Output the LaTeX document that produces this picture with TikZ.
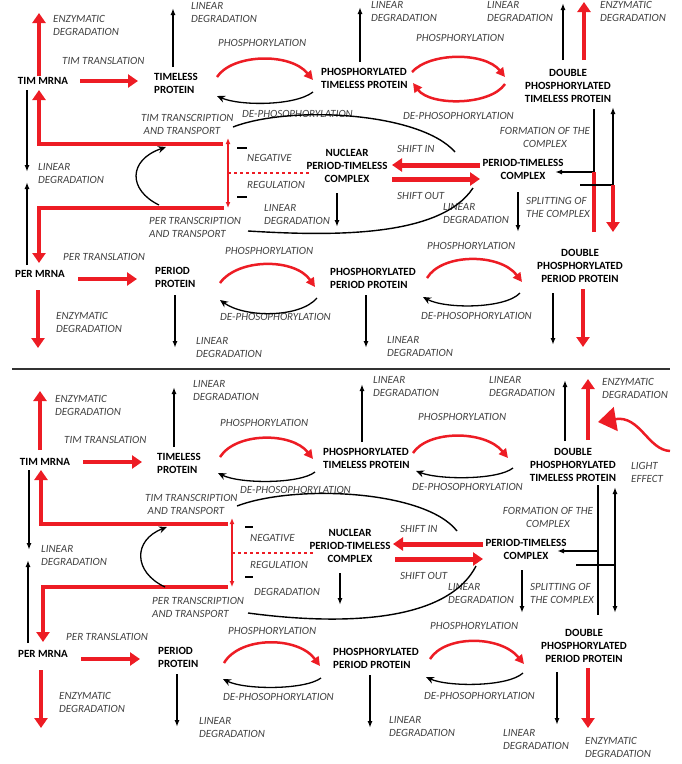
\documentclass[tikz,border=0pt]{standalone}
\usepackage{fontspec}
\setmainfont{Carlito}
\usepackage{tikz}
\usetikzlibrary{arrows,arrows.meta}
\usetikzlibrary{positioning}
\definecolor{paintred}{RGB}{237,28,36}
\definecolor{notegray}{RGB}{64,64,64}
\tikzstyle{clock_style}=[
	x=1pt, y=-1pt,
	protein/.style={align=center,inner sep=0pt,font=\bfseries\fontsize{11}{13}\selectfont},
	note/.style={align=left,anchor=west,inner sep=0pt,text=notegray,font=\itshape\fontsize{11}{13}\selectfont},
	red_edge/.style={draw=paintred,line width=4.5pt,-{Triangle[length=10pt,width=13pt]}},
	red_line/.style={draw=paintred,line width=4.5pt},
	shift_edge/.style={draw=paintred,line width=5pt,-{Triangle[length=10pt,width=13pt]}},
	red_arc/.style={draw=paintred,line width=2.5pt,-{Triangle[length=9pt,width=9pt]}},
	light_edge/.style={draw=paintred,line width=2.5pt,-{Triangle[length=18pt,width=24pt]}},
	thin_edge/.style={draw=black,line width=1.4pt,-{Latex[length=7pt,width=5pt]}},
	thin_both/.style={draw=black,line width=1.4pt,{Latex[length=7pt,width=5pt]}-{Latex[length=7pt,width=5pt]}},
	thin_line/.style={draw=black,line width=1.4pt},
	arc_edge/.style={draw=black,line width=1.3pt,-{Stealth[length=8pt,width=7pt]}},
	reg_edge/.style={draw=paintred,line width=1.4pt,{Latex[length=6pt,width=5pt]}-{Latex[length=6pt,width=5pt]}},
	reg_dash/.style={draw=paintred,line width=1.2pt,dashed},
	minus_sign/.style={draw=black,line width=1.5pt},
	rule_line/.style={draw=black!80,line width=2pt}
]

\begin{document}
\begin{tikzpicture}[clock_style]
		\useasboundingbox (0,0) rectangle (681,764);
		
		%% upper panel
		\node[protein]    (timmrna) at (43,81)   {TIM MRNA};
		\node[protein,anchor=west,align=left]    (timprot) at (154,83.5)   {TIMELESS\\PROTEIN};
		\node[protein,anchor=west,align=left]    (phostim) at (321,78.5)   {PHOSPHORYLATED\\TIMELESS PROTEIN};
		\node[protein]    (dphostim) at (568,86)   {DOUBLE\\PHOSPHORYLATED\\TIMELESS PROTEIN};
		\node[protein]    (nuclear) at (347,166)   {NUCLEAR\\PERIOD-TIMELESS\\COMPLEX};
		\node[protein]    (complex) at (523,169.5)   {PERIOD-TIMELESS\\COMPLEX};
		\node[protein]    (permrna) at (40,274)   {PER MRNA};
		\node[protein,anchor=west,align=left]    (perprot) at (155,277.5)   {PERIOD\\PROTEIN};
		\node[protein,anchor=west,align=left]    (phosper) at (330,278)   {PHOSPHORYLATED\\PERIOD PROTEIN};
		\node[protein]    (dphosper) at (580,266)   {DOUBLE\\PHOSPHORYLATED\\PERIOD PROTEIN};
		
		\node[note]    (n_tmenz) at (53,25.5)   {ENZYMATIC\\DEGRADATION};
		\node[note]    (n_tmtrl) at (62,61)   {TIM TRANSLATION};
		\node[note]    (n_tplin) at (191,12.5)   {LINEAR\\DEGRADATION};
		\node[note]    (n_ph1) at (218,43)   {PHOSPHORYLATION};
		\node[note]    (n_pt1lin) at (371,11.5)   {LINEAR\\DEGRADATION};
		\node[note]    (n_ph2) at (416,38)   {PHOSPHORYLATION};
		\node[note]    (n_dtlin) at (487,11.5)   {LINEAR\\DEGRADATION};
		\node[note]    (n_dtenz) at (600,11.5)   {ENZYMATIC\\DEGRADATION};
		\node[note]    (n_de1) at (242,114)   {DE-PHOSOPHORYLATION};
		\node[note]    (n_de2) at (403,116)   {DE-PHOSOPHORYLATION};
		\node[note]    (n_timtr) at (141,124)   {TIM TRANSCRIPTION\\\ AND TRANSPORT};
		\node[note,anchor=center,align=center]    (n_form) at (545,137.5)   {FORMATION OF THE\\COMPLEX};
		\node[note]    (n_neg) at (247,158)   {NEGATIVE};
		\node[note]    (n_reg) at (247,185)   {REGULATION};
		\node[note]    (n_in) at (397,149)   {SHIFT IN};
		\node[note]    (n_out) at (397,196)   {SHIFT OUT};
		\node[note]    (n_mlin) at (38,174)   {LINEAR\\DEGRADATION};
		\node[note]    (n_nulin) at (264,215)   {LINEAR\\DEGRADATION};
		\node[note]    (n_colin) at (443,213.5)   {LINEAR\\DEGRADATION};
		\node[note]    (n_split) at (526,207)   {SPLITTING OF\\THE COMPLEX};
		\node[note]    (n_pertr) at (149,227.5)   {PER TRANSCRIPTION\\AND TRANSPORT};
		\node[note]    (n_pmtrl) at (63,257)   {PER TRANSLATION};
		\node[note]    (n_ph3) at (225,251)   {PHOSPHORYLATION};
		\node[note]    (n_ph4) at (427,246)   {PHOSPHORYLATION};
		\node[note]    (n_de3) at (220,317)   {DE-PHOSOPHORYLATION};
		\node[note]    (n_de4) at (421,316)   {DE-PHOSOPHORYLATION};
		\node[note]    (n_pmenz) at (56,322.5)   {ENZYMATIC\\DEGRADATION};
		\node[note]    (n_pplin) at (196,347.5)   {LINEAR\\DEGRADATION};
		\node[note]    (n_pp1lin) at (387,346.5)   {LINEAR\\DEGRADATION};
		
		\coordinate (a1) at (39,76);  \coordinate (a2) at (39,13);
		\coordinate (a3) at (80,81);  \coordinate (a4) at (138,81);
		\coordinate (a5) at (223,144);  \coordinate (a6) at (39,144);  \coordinate (a7) at (39,90);
		\coordinate (a8) at (224,208);  \coordinate (a9) at (39,208);  \coordinate (a10) at (39,263);
		\coordinate (a11) at (27,90);  \coordinate (a12) at (27,172);
		\coordinate (a13) at (27,265);  \coordinate (a14) at (27,182);
		\coordinate (a15) at (228,138);  \coordinate (a16) at (228,208);
		\coordinate (a17) at (228,173);  \coordinate (a18) at (310,173);
		\coordinate (a19) at (237,148);  \coordinate (a20) at (247,148);
		\coordinate (a21) at (237,197);  \coordinate (a22) at (247,197);
		\coordinate (a23) at (159,205);  \coordinate (a24) at (166,147);
		\coordinate (a25) at (233,127);  \coordinate (a26) at (455,152);
		\coordinate (a27) at (248,231);  \coordinate (a28) at (473,188);
		\coordinate (a29) at (337,193);  \coordinate (a30) at (337,227);
		\coordinate (a31) at (480,165);  \coordinate (a32) at (392,165);
		\coordinate (a33) at (392,179);  \coordinate (a34) at (480,179);
		\coordinate (a35) at (518,192);  \coordinate (a36) at (518,232);
		\coordinate (a37) at (594,109);  \coordinate (a38) at (594,172);  \coordinate (a39) at (555,172);
		\coordinate (a40) at (594,232);
		\coordinate (a41) at (580,185);  \coordinate (a42) at (613,185);  \coordinate (a43) at (613,107);
		\coordinate (a44) at (613,232);
		\coordinate (a45) at (173,67);  \coordinate (a46) at (173,8);
		\coordinate (a47) at (360,62);  \coordinate (a48) at (360,7);
		\coordinate (a49) at (563,60);  \coordinate (a50) at (563,3);
		\coordinate (a51) at (584,60);  \coordinate (a52) at (584,2);
		\coordinate (a53) at (78,279);  \coordinate (a54) at (137,279);
		\coordinate (a55) at (38,290);  \coordinate (a56) at (38,348);
		\coordinate (a57) at (175,295);  \coordinate (a58) at (175,348);
		\coordinate (a59) at (366,295);  \coordinate (a60) at (366,348);
		\coordinate (a61) at (553,293);  \coordinate (a62) at (553,345);
		\coordinate (a63) at (583,289);  \coordinate (a64) at (583,347);
		\coordinate (c1) at (217,77);  \coordinate (c2) at (313,80);
		\coordinate (c3) at (313,92);  \coordinate (c4) at (217,96);
		\coordinate (c5) at (412,72);  \coordinate (c6) at (505,77);
		\coordinate (c7) at (505,84);  \coordinate (c8) at (413,83);
		\coordinate (c9) at (220,283);  \coordinate (c10) at (315,287);
		\coordinate (c11) at (317,298);  \coordinate (c12) at (220,300);
		\coordinate (c13) at (427,278);  \coordinate (c14) at (522,282);
		\coordinate (c15) at (520,293);  \coordinate (c16) at (423,297);
		
		\draw[red_edge] (a1) -- (a2);
		\draw[red_edge] (a3) -- (a4);
		\draw[red_edge] (a5) -- (a6) -- (a7);
		\draw[red_edge] (a8) -- (a9) -- (a10);
		\draw[thin_edge] (a11) -- (a12);
		\draw[thin_edge] (a13) -- (a14);
		\draw[reg_edge] (a15) -- (a16);
		\draw[reg_dash] (a17) -- (a18);
		\draw[minus_sign] (a19) -- (a20);
		\draw[minus_sign] (a21) -- (a22);
		\draw[arc_edge] (a23) .. controls (128,190) and (128,160) .. (a24);
		\draw[thin_line] (a25) .. controls (290,105) and (420,112) .. (a26);
		\draw[thin_line] (a27) .. controls (330,236) and (440,238) .. (a28);
		\draw[thin_edge] (a29) -- (a30);
		\draw[shift_edge] (a31) -- (a32);
		\draw[shift_edge] (a33) -- (a34);
		\draw[thin_edge] (a35) -- (a36);
		\draw[thin_edge] (a37) -- (a38) -- (a39);
		\draw[red_line] (a40) -- (a38);
		\draw[thin_line] (a41) -- (a42);
		\draw[thin_edge] (a42) -- (a43);
		\draw[red_edge] (a42) -- (a44);
		\draw[thin_edge] (a45) -- (a46);
		\draw[thin_edge] (a47) -- (a48);
		\draw[thin_edge] (a49) -- (a50);
		\draw[red_edge] (a51) -- (a52);
		\draw[red_edge] (a53) -- (a54);
		\draw[red_edge] (a55) -- (a56);
		\draw[thin_edge] (a57) -- (a58);
		\draw[thin_edge] (a59) -- (a60);
		\draw[thin_edge] (a61) -- (a62);
		\draw[red_edge] (a63) -- (a64);
		\draw[red_arc] (c1) .. controls (232,54) and (290,52) .. (c2);
		\draw[arc_edge] (c3) .. controls (295,106) and (240,106) .. (c4);
		\draw[red_arc] (c5) .. controls (430,52) and (485,52) .. (c6);
		\draw[red_arc] (c7) .. controls (490,106) and (430,106) .. (c8);
		\draw[red_arc] (c9) .. controls (238,258) and (295,258) .. (c10);
		\draw[arc_edge] (c11) .. controls (300,318) and (245,318) .. (c12);
		\draw[red_arc] (c13) .. controls (442,253) and (500,253) .. (c14);
		\draw[arc_edge] (c15) .. controls (505,309) and (445,309) .. (c16);
		
		\coordinate (s1) at (12,369);  \coordinate (s2) at (670,369);
		\draw[rule_line] (s1) -- (s2);
		
		%% lower panel
		\node[protein]    (timmrnab) at (45,462)   {TIM MRNA};
		\node[protein,anchor=west,align=left]    (timprotb) at (157,463)   {TIMELESS\\PROTEIN};
		\node[protein,anchor=west,align=left]    (phostimb) at (323,458)   {PHOSPHORYLATED\\TIMELESS PROTEIN};
		\node[protein]    (dphostimb) at (573,465)   {DOUBLE\\PHOSPHORYLATED\\TIMELESS PROTEIN};
		\node[protein]    (nuclearb) at (350,546)   {NUCLEAR\\PERIOD-TIMELESS\\COMPLEX};
		\node[protein]    (complexb) at (526,549.5)   {PERIOD-TIMELESS\\COMPLEX};
		\node[protein]    (permrnab) at (43,654)   {PER MRNA};
		\node[protein,anchor=west,align=left]    (perprotb) at (158,657.5)   {PERIOD\\PROTEIN};
		\node[protein,anchor=west,align=left]    (phosperb) at (333,658)   {PHOSPHORYLATED\\PERIOD PROTEIN};
		\node[protein]    (dphosperb) at (584,646)   {DOUBLE\\PHOSPHORYLATED\\PERIOD PROTEIN};
		
		\node[note]    (m_tmenz) at (55,405)   {ENZYMATIC\\DEGRADATION};
		\node[note]    (m_tplin) at (193,390.5)   {LINEAR\\DEGRADATION};
		\node[note]    (m_tmtrl) at (64,440)   {TIM TRANSLATION};
		\node[note]    (m_ph1) at (220,423)   {PHOSPHORYLATION};
		\node[note]    (m_pt1lin) at (373,387)   {LINEAR\\DEGRADATION};
		\node[note]    (m_ph2) at (418,417)   {PHOSPHORYLATION};
		\node[note]    (m_dtlin) at (489,386.5)   {LINEAR\\DEGRADATION};
		\node[note]    (m_dtenz) at (602,388.5)   {ENZYMATIC\\DEGRADATION};
		\node[note]    (m_light) at (631,472)   {LIGHT\\EFFECT};
		\node[note]    (m_de1) at (240,490)   {DE-PHOSOPHORYLATION};
		\node[note]    (m_de2) at (412,487)   {DE-PHOSOPHORYLATION};
		\node[note]    (m_timtr) at (145,504)   {TIM TRANSCRIPTION\\\ AND TRANSPORT};
		\node[note,anchor=center,align=center]    (m_form) at (548,517.5)   {FORMATION OF THE\\COMPLEX};
		\node[note]    (m_in) at (400,529)   {SHIFT IN};
		\node[note]    (m_neg) at (250,538)   {NEGATIVE};
		\node[note]    (m_reg) at (250,565)   {REGULATION};
		\node[note]    (m_out) at (400,576)   {SHIFT OUT};
		\node[note]    (m_mlin) at (41,555.5)   {LINEAR\\DEGRADATION};
		\node[note]    (m_nulin) at (254,592)   {DEGRADATION};
		\node[note]    (m_colin) at (448,594)   {LINEAR\\DEGRADATION};
		\node[note]    (m_split) at (530,593.5)   {SPLITTING OF\\THE COMPLEX};
		\node[note]    (m_pertr) at (152,607.5)   {PER TRANSCRIPTION\\AND TRANSPORT};
		\node[note]    (m_ph4) at (430,626)   {PHOSPHORYLATION};
		\node[note]    (m_ph3) at (228,631)   {PHOSPHORYLATION};
		\node[note]    (m_pmtrl) at (66,637)   {PER TRANSLATION};
		\node[note]    (m_de3) at (223,697)   {DE-PHOSOPHORYLATION};
		\node[note]    (m_de4) at (424,696)   {DE-PHOSOPHORYLATION};
		\node[note]    (m_pmenz) at (59,702.5)   {ENZYMATIC\\DEGRADATION};
		\node[note]    (m_pplin) at (199,727)   {LINEAR\\DEGRADATION};
		\node[note]    (m_pp1lin) at (389,726.5)   {LINEAR\\DEGRADATION};
		\node[note]    (m_dplin) at (503,739.5)   {LINEAR\\DEGRADATION};
		\node[note]    (m_dpenz) at (585,747.5)   {ENZYMATIC\\DEGRADATION};
		
		\coordinate (b1) at (40,450);  \coordinate (b2) at (40,391);
		\coordinate (b3) at (83,462);  \coordinate (b4) at (142,462);
		\coordinate (b5) at (228,524);  \coordinate (b6) at (41,524);  \coordinate (b7) at (41,470);
		\coordinate (b8) at (228,587);  \coordinate (b9) at (43,587);  \coordinate (b10) at (43,642);
		\coordinate (b11) at (29,470);  \coordinate (b12) at (29,550);
		\coordinate (b13) at (28,643);  \coordinate (b14) at (28,560);
		\coordinate (b15) at (232,518);  \coordinate (b16) at (232,587);
		\coordinate (b17) at (232,553);  \coordinate (b18) at (315,553);
		\coordinate (b19) at (245,527);  \coordinate (b20) at (253,527);
		\coordinate (b21) at (245,577);  \coordinate (b22) at (253,577);
		\coordinate (b23) at (165,587);  \coordinate (b24) at (167,527);
		\coordinate (b25) at (237,506);  \coordinate (b26) at (457,531);
		\coordinate (b27) at (248,613);  \coordinate (b28) at (476,566);
		\coordinate (b29) at (340,573);  \coordinate (b30) at (340,605);
		\coordinate (b31) at (483,544);  \coordinate (b32) at (393,544);
		\coordinate (b33) at (395,559);  \coordinate (b34) at (483,559);
		\coordinate (b35) at (522,570);  \coordinate (b36) at (522,613);
		\coordinate (b37) at (598,485);  \coordinate (b38) at (598,615);
		\coordinate (b39) at (598,551);  \coordinate (b40) at (557,551);
		\coordinate (b41) at (576,565);  \coordinate (b42) at (615,565);
		\coordinate (b43) at (615,487);  \coordinate (b44) at (615,613);
		\coordinate (b45) at (174,447);  \coordinate (b46) at (174,387);
		\coordinate (b47) at (362,442);  \coordinate (b48) at (362,384);
		\coordinate (b49) at (565,441);  \coordinate (b50) at (565,380);
		\coordinate (b51) at (588,440);  \coordinate (b52) at (588,379);
		\coordinate (b53) at (81,659);  \coordinate (b54) at (140,659);
		\coordinate (b55) at (41,670);  \coordinate (b56) at (41,728);
		\coordinate (b57) at (177,674);  \coordinate (b58) at (177,727);
		\coordinate (b59) at (370,675);  \coordinate (b60) at (370,728);
		\coordinate (b61) at (557,672);  \coordinate (b62) at (557,725);
		\coordinate (b63) at (588,668);  \coordinate (b64) at (588,728);
		\coordinate (b65) at (670,451);  \coordinate (b66) at (598,422);
		\coordinate (d1) at (220,457);  \coordinate (d2) at (313,459);
		\coordinate (d3) at (315,472);  \coordinate (d4) at (218,473);
		\coordinate (d5) at (413,453);  \coordinate (d6) at (508,458);
		\coordinate (d7) at (513,468);  \coordinate (d8) at (416,471);
		\coordinate (d9) at (224,663);  \coordinate (d10) at (320,666);
		\coordinate (d11) at (321,678);  \coordinate (d12) at (223,679);
		\coordinate (d13) at (430,659);  \coordinate (d14) at (524,664);
		\coordinate (d15) at (523,673);  \coordinate (d16) at (426,677);
		
		\draw[red_edge] (b1) -- (b2);
		\draw[red_edge] (b3) -- (b4);
		\draw[red_edge] (b5) -- (b6) -- (b7);
		\draw[red_edge] (b8) -- (b9) -- (b10);
		\draw[thin_edge] (b11) -- (b12);
		\draw[thin_edge] (b13) -- (b14);
		\draw[reg_edge] (b15) -- (b16);
		\draw[reg_dash] (b17) -- (b18);
		\draw[minus_sign] (b19) -- (b20);
		\draw[minus_sign] (b21) -- (b22);
		\draw[arc_edge] (b23) .. controls (133,572) and (133,540) .. (b24);
		\draw[thin_line] (b25) .. controls (295,484) and (425,490) .. (b26);
		\draw[thin_line] (b27) .. controls (330,624) and (445,626) .. (b28);
		\draw[thin_edge] (b29) -- (b30);
		\draw[shift_edge] (b31) -- (b32);
		\draw[shift_edge] (b33) -- (b34);
		\draw[thin_edge] (b35) -- (b36);
		\draw[thin_line] (b37) -- (b38);
		\draw[thin_edge] (b39) -- (b40);
		\draw[thin_line] (b41) -- (b42);
		\draw[thin_both] (b43) -- (b44);
		\draw[thin_edge] (b45) -- (b46);
		\draw[thin_edge] (b47) -- (b48);
		\draw[thin_edge] (b49) -- (b50);
		\draw[red_edge] (b51) -- (b52);
		\draw[red_edge] (b53) -- (b54);
		\draw[red_edge] (b55) -- (b56);
		\draw[thin_edge] (b57) -- (b58);
		\draw[thin_edge] (b59) -- (b60);
		\draw[thin_edge] (b61) -- (b62);
		\draw[red_edge] (b63) -- (b64);
		\draw[light_edge] (b65) .. controls (648,450) and (640,415) .. (b66);
		\draw[red_arc] (d1) .. controls (236,432) and (292,432) .. (d2);
		\draw[arc_edge] (d3) .. controls (300,484) and (240,484) .. (d4);
		\draw[red_arc] (d5) .. controls (428,430) and (485,430) .. (d6);
		\draw[arc_edge] (d7) .. controls (498,480) and (440,480) .. (d8);
		\draw[red_arc] (d9) .. controls (240,636) and (298,636) .. (d10);
		\draw[arc_edge] (d11) .. controls (305,690) and (245,690) .. (d12);
		\draw[red_arc] (d13) .. controls (445,635) and (500,635) .. (d14);
		\draw[arc_edge] (d15) .. controls (508,687) and (448,687) .. (d16);
		
		
\end{tikzpicture}
\end{document}
